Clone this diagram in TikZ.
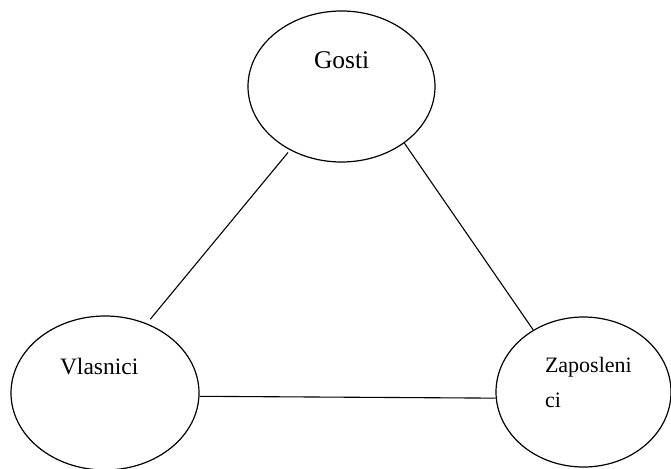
\documentclass[tikz,border=0pt]{standalone}
\usepackage{fontspec}
\setmainfont{Liberation Serif}
\usetikzlibrary{shapes.geometric}
\begin{document}
\begin{tikzpicture}[x=1pt,y=-1pt,
  oval/.style={draw,ellipse,line width=1.2pt,inner sep=0pt},
  link/.style={line width=1.1pt},
  lbl/.style={anchor=base west,inner sep=0pt,outer sep=0pt}]
\useasboundingbox (0,0) rectangle (671,468);
\node[oval,minimum width=187pt,minimum height=151pt] (g) at (341.5,86.5) {};
\node[oval,minimum width=188pt,minimum height=154pt] (v) at (105,393) {};
\node[oval,minimum width=175pt,minimum height=150pt] (z) at (583.5,392) {};
\node[lbl,font=\fontsize{25.5}{30}\selectfont] (gt) at (314,69) {Gosti};
\node[lbl,font=\fontsize{23.5}{28}\selectfont] (vt) at (60,374) {Vlasnici};
\node[lbl,font=\fontsize{22}{26}\selectfont] (zt1) at (545,372) {Zaposleni};
\node[lbl,font=\fontsize{22}{26}\selectfont] (zt2) at (545,407) {ci};
\draw[link,shorten <=3pt,shorten >=5.5pt] (g.231) -- (v.59);
\draw[link] (g.318) -- (z.129);
\draw[link] (v.-2.4) -- (z.184.6);
\end{tikzpicture}
\end{document}
